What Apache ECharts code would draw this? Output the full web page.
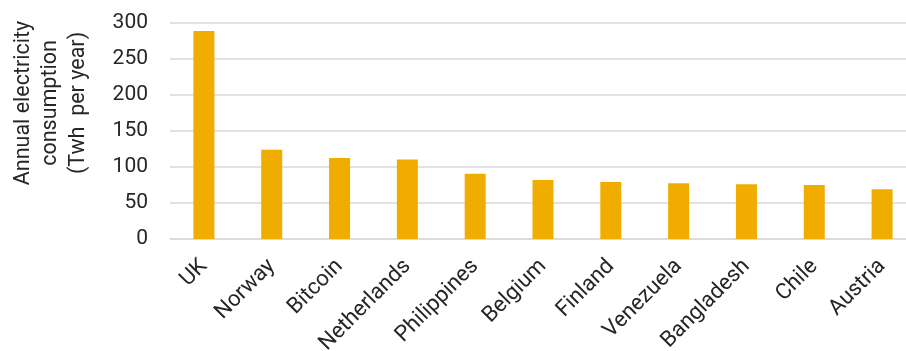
<!DOCTYPE html>
<html>
<head>
<meta charset="utf-8">
<script src="https://cdn.jsdelivr.net/npm/echarts@6/dist/echarts.min.js"></script>
<style>
  html, body { margin: 0; padding: 0; background: #fff; }
  #chart { width: 906px; height: 351px; }
</style>
</head>
<body>
<div id="chart"></div>
<script>
// countries (plus Bitcoin) by annual electricity use
const countries = ['UK', 'Norway', 'Bitcoin', 'Netherlands', 'Philippines', 'Belgium',
  'Finland', 'Venezuela', 'Bangladesh', 'Chile', 'Austria']
const consumption = [289, 124, 112.5, 110.5, 90.5, 82, 79, 77.5, 76, 75, 69]
const yTicks = [0, 50, 100, 150, 200, 250, 300]

const textColor = '#262626'
const font = 'Roboto, "Liberation Sans", sans-serif'

const chart = echarts.init(document.getElementById('chart'), null, { renderer: 'canvas' })
const option = {
  animation: false,
  grid: {
    left: 170,
    top: 23,
    width: 746,
    bottom: 112,
    containLabel: false,
    outerBoundsMode: 'none'
  },
  graphic: [{
    type: 'text',
    x: 51,
    y: 103,
    rotation: Math.PI / 2,
    style: {
      text: 'Annual electricity\nconsumption\n(Twh  per year)',
      fill: textColor,
      font: '21.5px ' + font,
      lineHeight: 27.5,
      align: 'center',
      verticalAlign: 'middle'
    }
  }],
  xAxis: {
    type: 'category',
    data: countries,
    axisTick: { show: false },
    axisLine: { show: true, lineStyle: { color: '#d9d9d9', width: 1.5 } },
    axisLabel: {
      rotate: 45,
      margin: 24,
      interval: 0,
      color: textColor,
      fontSize: 22,
      fontFamily: font
    }
  },
  yAxis: {
    type: 'value',
    min: yTicks[0],
    max: yTicks[yTicks.length - 1],
    interval: 50,
    axisLine: { show: false },
    axisTick: { show: false },
    axisLabel: {
      margin: 22,
      color: textColor,
      fontSize: 21,
      fontFamily: font
    },
    splitLine: { lineStyle: { color: '#d9d9d9', width: 1.5 } }
  },
  series: [{
    type: 'bar',
    data: consumption,
    barWidth: 21,
    itemStyle: { color: '#F0AD00' }
  }]
}
chart.setOption(option)
</script>
</body>
</html>
